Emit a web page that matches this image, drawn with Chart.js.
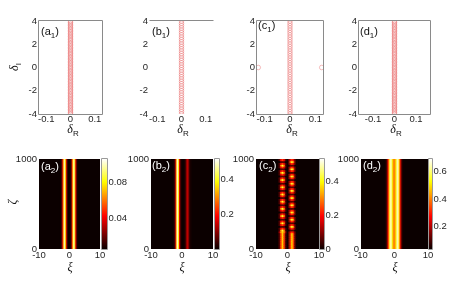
<!DOCTYPE html>
<html>
<head>
  <title>Spectra and evolution</title>
  <meta charset="utf-8">
  <script src="https://cdn.jsdelivr.net/npm/chart.js"></script>
  <style>
    body { margin: 0; background: #fff; }
    #fig {
      position: relative; width: 463px; height: 290px; overflow: hidden;
      font-family: 'Liberation Sans', Arial, sans-serif;
    }
    #fig canvas { position: absolute; }
    .lbl { position: absolute; font-size: 11px; line-height: 1; color: #111; white-space: nowrap; z-index: 5; }
    .lbl sub { font-size: 8px; vertical-align: -3px; line-height: 0; }
    .white { color: #fff; }
    .sym {
      position: absolute; font-family: 'Liberation Serif', serif; font-style: italic;
      font-size: 12px; line-height: 1; color: #111; white-space: nowrap; z-index: 5;
      transform: translate(-50%, -50%);
    }
    .sym sub { font-size: 8px; font-style: normal; font-family: 'Liberation Sans', Arial, sans-serif; vertical-align: -3px; line-height: 0; }
    .rot { transform: translate(-50%, -50%) rotate(-90deg); }
  </style>
</head>
<body>
<div id="fig">
  <div class="lbl" style="left:41px;top:26px">(a<sub>1</sub>)</div>
  <div class="lbl" style="left:152px;top:26px">(b<sub>1</sub>)</div>
  <div class="lbl" style="left:258px;top:20px">(c<sub>1</sub>)</div>
  <div class="lbl" style="left:360px;top:26px">(d<sub>1</sub>)</div>
  <div class="lbl white" style="left:41px;top:161px">(a<sub>2</sub>)</div>
  <div class="lbl white" style="left:152px;top:160px">(b<sub>2</sub>)</div>
  <div class="lbl white" style="left:259px;top:160px">(c<sub>2</sub>)</div>
  <div class="lbl white" style="left:363px;top:160px">(d<sub>2</sub>)</div>

  <div class="sym rot" style="left:14px;top:67px">δ<sub>I</sub></div>
  <div class="sym" style="left:73px;top:129px">δ<sub>R</sub></div>
  <div class="sym" style="left:183px;top:129px">δ<sub>R</sub></div>
  <div class="sym" style="left:292px;top:129px">δ<sub>R</sub></div>
  <div class="sym" style="left:396px;top:129px">δ<sub>R</sub></div>

  <div class="sym rot" style="left:12px;top:202px">ζ</div>
  <div class="sym" style="left:70px;top:267px">ξ</div>
  <div class="sym" style="left:182px;top:267px">ξ</div>
  <div class="sym" style="left:288px;top:267px">ξ</div>
  <div class="sym" style="left:395px;top:267px">ξ</div>
</div>

<script>
  // ---- data ----
  // eigenvalue spectra (top row): imaginary parts of the continuous spectrum on Re = 0
  const specDense = [-4.00, -3.86, -3.73, -3.60, -3.46, -3.33, -3.20, -3.07, -2.93, -2.80,
    -2.67, -2.53, -2.40, -2.27, -2.13, -2.00, -1.87, -1.73, -1.60, -1.47, -1.33, -1.20,
    -1.07, -0.93, -0.80, -0.67, -0.53, -0.40, -0.27, -0.13, 0.00, 0.13, 0.27, 0.40, 0.53,
    0.67, 0.80, 0.93, 1.07, 1.20, 1.33, 1.47, 1.60, 1.73, 1.87, 2.00, 2.13, 2.27, 2.40,
    2.53, 2.67, 2.80, 2.93, 3.07, 3.20, 3.33, 3.46, 3.60, 3.73, 3.86, 4.00];
  const specSparse = [-4.0, -3.8, -3.6, -3.4, -3.2, -3.0, -2.8, -2.6, -2.4, -2.2, -2.0,
    -1.8, -1.6, -1.4, -1.2, -1.0, -0.8, -0.6, -0.4, -0.2, 0.0, 0.2, 0.4, 0.6, 0.8, 1.0,
    1.2, 1.4, 1.6, 1.8, 2.0, 2.2, 2.4, 2.6, 2.8, 3.0, 3.2, 3.4, 3.6, 3.8, 4.0];
  const specRe = 0;
  const c1UnstableRe = [-0.125, 0.125];
  const c1UnstableIm = [0, 0];

  const xTicksTop = [-0.1, 0, 0.1];
  const yTicksTop = [-4, -2, 0, 2, 4];
  const xTicksBot = [-10, 0, 10];
  const yTicksBot = [0, 1000];
  const zetaRange = [0, 1000];

  // intensity profiles across xi (bottom row a2, b2, d2 are constant along zeta)
  const xiGrid = [-3, -2.75, -2.5, -2.25, -2, -1.75, -1.5, -1.25, -1, -0.75, -0.5, -0.25,
    0, 0.25, 0.5, 0.75, 1, 1.25, 1.5, 1.75, 2, 2.25, 2.5, 2.75, 3];
  const a2Profile = [0.005, 0.006, 0.015, 0.03, 0.055, 0.088, 0.1, 0.08, 0.048, 0.022,
    0.01, 0.005, 0.005, 0.005, 0.01, 0.022, 0.048, 0.08, 0.1, 0.088, 0.055, 0.03, 0.015,
    0.006, 0.005];
  const b2Profile = [0, 0.004, 0.015, 0.05, 0.14, 0.3, 0.46, 0.5, 0.38, 0.2, 0.08, 0.025,
    0.006, 0.002, 0.002, 0.005, 0.015, 0.04, 0.09, 0.14, 0.14, 0.09, 0.04, 0.015, 0.004];
  const d2Profile = [0.037, 0.04, 0.055, 0.1, 0.19, 0.32, 0.47, 0.6, 0.65, 0.6, 0.5, 0.42,
    0.4, 0.42, 0.5, 0.6, 0.65, 0.6, 0.47, 0.32, 0.19, 0.1, 0.055, 0.04, 0.037];

  // c2: intensity levels (digit x c2Level) per zeta band (rows) and xi column
  const c2Xi = [-3, -2.5, -2, -1.5, -1, -0.5, 0, 0.5, 1, 1.5, 2, 2.5, 3];
  const c2ZetaStart = [0, 20, 40, 60, 80, 100, 120, 140, 160, 180, 200, 220, 240, 260, 280,
    300, 320, 340, 360, 380, 400, 420, 440, 460, 480, 500, 520, 540, 560, 580, 600, 620,
    640, 660, 680, 700, 720, 740, 760, 780, 800, 820, 840, 860, 880, 900, 920, 940, 960, 980];
  const c2ZetaEnd = [20, 40, 60, 80, 100, 120, 140, 160, 180, 200, 220, 240, 260, 280, 300,
    320, 340, 360, 380, 400, 420, 440, 460, 480, 500, 520, 540, 560, 580, 600, 620, 640,
    660, 680, 700, 720, 740, 760, 780, 800, 820, 840, 860, 880, 900, 920, 940, 960, 980, 1000];
  const c2Rows = [
    '0146410146410', '0146410146410', '0146410146410', '0146410146410', '0146410146410',
    '0146410146410', '0146410146410', '0146410146410', '0146410146410', '0256520134310',
    '0157510011100', '0134310134310', '0011100157510', '0134310134310',
    '0157510011100', '0134310134310', '0011100157510', '0134310134310',
    '0157510011100', '0134310134310', '0011100157510', '0134310134310',
    '0157510011100', '0134310134310', '0011100157510', '0134310134310',
    '0157510011100', '0134310134310', '0011100157510', '0134310134310',
    '0157510011100', '0134310134310', '0011100157510', '0134310134310',
    '0157510011100', '0134310134310', '0011100157510', '0134310134310',
    '0157510011100', '0134310134310', '0011100157510', '0134310134310',
    '0157510011100', '0134310134310', '0011100157510', '0134310134310',
    '0157510011100', '0134310134310', '0011100157510', '0134310134310'
  ];
  const c2Level = 0.06;

  // colour limits and colour-bar ticks
  const a2Range = [0.005, 0.107], a2Ticks = [0.04, 0.08];
  const b2Range = [0, 0.52],      b2Ticks = [0.2, 0.4];
  const c2Range = [0, 0.53],      c2Ticks = [0, 0.2, 0.4];
  const d2Range = [0.037, 0.69],  d2Ticks = [0.2, 0.4, 0.6];

  // ---- helpers ----
  Chart.defaults.font.family = "'Liberation Sans', Arial, sans-serif";
  Chart.defaults.font.size = 9.5;
  Chart.defaults.color = '#262626';
  Chart.defaults.animation = false;
  Chart.defaults.plugins.legend.display = false;
  Chart.defaults.plugins.tooltip.enabled = false;

  // MATLAB "hot" colormap
  function hot(t) {
    t = Math.max(0, Math.min(1, t));
    const i = 1 + t * 63;
    const r = Math.min(1, i / 24);
    const g = Math.max(0, Math.min(1, (i - 24) / 24));
    const b = Math.max(0, Math.min(1, (i - 48) / 16));
    return `rgb(${Math.round(r * 255)},${Math.round(g * 255)},${Math.round(b * 255)})`;
  }

  Chart.register({
    id: 'bg',
    beforeDatasetsDraw(chart, args, opts) {
      if (!opts.color) return;
      const { ctx, chartArea: a } = chart;
      ctx.save();
      ctx.fillStyle = opts.color;
      ctx.fillRect(a.left, a.top, a.right - a.left, a.bottom - a.top);
      ctx.restore();
    }
  }, {
    id: 'frame',
    afterDraw(chart, args, opts) {
      if (!opts.sides) return;
      const { ctx, chartArea: a } = chart;
      const L = a.left - 0.5, R = a.right + 0.5, T = a.top - 0.5, B = a.bottom + 0.5;
      ctx.save();
      ctx.strokeStyle = opts.color || '#888';
      ctx.lineWidth = 1;
      ctx.beginPath();
      if (opts.sides.includes('t')) { ctx.moveTo(L, T); ctx.lineTo(R, T); }
      if (opts.sides.includes('b')) { ctx.moveTo(L, B); ctx.lineTo(R, B); }
      if (opts.sides.includes('l')) { ctx.moveTo(L, T); ctx.lineTo(L, B); }
      if (opts.sides.includes('r')) { ctx.moveTo(R, T); ctx.lineTo(R, B); }
      ctx.stroke();
      ctx.restore();
    }
  });

  function mount(box, m) {
    const [l, t, w, h] = box;
    const c = document.createElement('canvas');
    c.width = w + m.L + m.R;
    c.height = h + m.T + m.B;
    c.style.left = (l - m.L) + 'px';
    c.style.top = (t - m.T) + 'px';
    document.getElementById('fig').appendChild(c);
    return c;
  }

  function axis(min, max, ticks, pos, size, pad) {
    return {
      type: 'linear', position: pos, min, max, offset: false,
      grid: { display: false, drawTicks: false },
      border: { display: false },
      afterBuildTicks: s => { s.ticks = ticks.map(v => ({ value: v })); },
      afterFit: s => { if (pos === 'bottom' || pos === 'top') s.height = size; else s.width = size; },
      ticks: { padding: pad, autoSkip: false, maxRotation: 0, callback: v => String(v) }
    };
  }

  const M = { L: 40, T: 8, R: 10, B: 16 };

  function spectrum(box, xr, im, extraRe, extraIm, sides) {
    const datasets = [{ data: im.map(y => ({ x: specRe, y })) }];
    if (extraRe) datasets.push({ data: extraRe.map((x, i) => ({ x, y: extraIm[i] })) });
    new Chart(mount(box, M), {
      type: 'scatter',
      data: { datasets },
      options: {
        responsive: false, devicePixelRatio: 1,
        layout: { padding: { top: M.T, right: M.R } },
        elements: { point: { radius: 2.3, borderWidth: 0.5, backgroundColor: 'rgba(0,0,0,0)',
          borderColor: 'rgba(220,40,40,0.6)', hoverRadius: 2.3 } },
        scales: {
          x: axis(xr[0], xr[1], xTicksTop, 'bottom', M.B, 0),
          y: axis(-4, 4, yTicksTop, 'left', M.L, 2)
        },
        plugins: { frame: { sides, color: '#8a8a8a' } }
      }
    });
  }

  function heat(box, data, colors) {
    new Chart(mount(box, M), {
      type: 'bar',
      data: { datasets: [{ data, backgroundColor: colors, borderWidth: 0,
        barPercentage: 1, categoryPercentage: 1 }] },
      options: {
        responsive: false, devicePixelRatio: 1,
        layout: { padding: { top: M.T, right: M.R } },
        scales: {
          x: axis(-10, 10, xTicksBot, 'bottom', M.B, 1),
          y: axis(zetaRange[0], zetaRange[1], yTicksBot, 'left', M.L, 2)
        },
        plugins: { bg: { color: hot(0) } }
      }
    });
  }

  function profileHeat(box, profile, range) {
    const data = xiGrid.map(x => ({ x, y: zetaRange }));
    const colors = profile.map(v => hot((v - range[0]) / (range[1] - range[0])));
    heat(box, data, colors);
  }

  function colorbar(box, range, ticks) {
    const m = { L: 2, T: 8, R: 30, B: 8 };
    new Chart(mount(box, m), {
      type: 'bar',
      data: { labels: [''], datasets: [{ data: [range], borderWidth: 0,
        barPercentage: 1, categoryPercentage: 1,
        backgroundColor: c => {
          const a = c.chart.chartArea;
          if (!a) return hot(0);
          const g = c.chart.ctx.createLinearGradient(0, a.bottom, 0, a.top);
          [0, 0.125, 0.25, 0.365, 0.5, 0.625, 0.746, 0.875, 1].forEach(s => g.addColorStop(s, hot(s)));
          return g;
        } }] },
      options: {
        responsive: false, devicePixelRatio: 1,
        layout: { padding: { top: m.T, bottom: m.B, left: m.L } },
        scales: {
          x: { display: false },
          y: axis(range[0], range[1], ticks, 'right', m.R, 1.5)
        },
        plugins: { frame: { sides: 'ltrb', color: '#9a9a9a' } }
      }
    });
  }

  // ---- top row: stability spectra ----
  spectrum([39, 21, 63, 93], [-0.13, 0.13], specDense, null, null, 'ltrb');
  spectrum([150, 21, 63, 93], [-0.13, 0.13], specSparse, null, null, 't');
  spectrum([257, 21, 66, 93], [-0.13, 0.13], specSparse, c1UnstableRe, c1UnstableIm, 'ltrb');
  spectrum([359, 21, 71, 93], [-0.165, 0.165], specDense, null, null, 'ltrb');

  // ---- bottom row: evolution maps ----
  profileHeat([39, 159, 61, 90], a2Profile, a2Range);
  colorbar([102, 159, 5, 90], a2Range, a2Ticks);

  profileHeat([151, 159, 62, 90], b2Profile, b2Range);
  colorbar([215, 159, 4, 90], b2Range, b2Ticks);

  const c2Data = [], c2Colors = [];
  c2Rows.forEach((row, r) => {
    c2Xi.forEach((x, k) => {
      const v = Number(row[k]) * c2Level;
      c2Data.push({ x, y: [c2ZetaStart[r], c2ZetaEnd[r]] });
      c2Colors.push(hot((v - c2Range[0]) / (c2Range[1] - c2Range[0])));
    });
  });
  heat([256, 159, 63, 90], c2Data, c2Colors);
  colorbar([320, 159, 4, 90], c2Range, c2Ticks);

  profileHeat([361, 159, 67, 90], d2Profile, d2Range);
  colorbar([429, 159, 3, 90], d2Range, d2Ticks);
</script>
</body>
</html>
